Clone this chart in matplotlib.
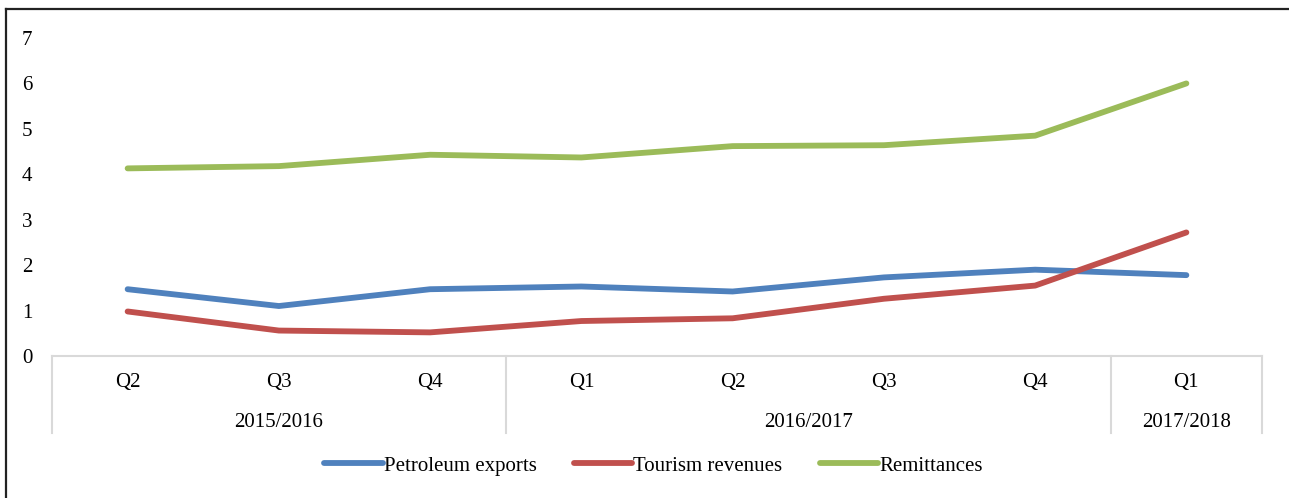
import matplotlib
matplotlib.use("Agg")
import matplotlib.pyplot as plt
from matplotlib.lines import Line2D
import matplotlib.transforms as mtransforms

plt.rcParams["font.family"] = ["Liberation Serif", "DejaVu Serif"]

quarters = ["Q2", "Q3", "Q4", "Q1", "Q2", "Q3", "Q4", "Q1"]
years = ["2015/2016", "2016/2017", "2017/2018"]
year_spans = [(0, 3), (3, 7), (7, 8)]

petroleum = [1.47, 1.10, 1.47, 1.53, 1.42, 1.73, 1.90, 1.78]
tourism = [0.98, 0.56, 0.52, 0.77, 0.83, 1.26, 1.55, 2.72]
remittances = [4.13, 4.18, 4.43, 4.37, 4.62, 4.64, 4.85, 6.00]

series = [
    ("Petroleum exports", petroleum, "#4F81BD"),
    ("Tourism revenues", tourism, "#C0504D"),
    ("Remittances", remittances, "#9BBB59"),
]

FS = 15

fig = plt.figure(figsize=(12.89, 4.98), dpi=100)
ax = fig.add_axes([52 / 1289, 1 - 356 / 498, 1210 / 1289, 318 / 498])

xs = [i + 0.5 for i in range(len(quarters))]
for name, vals, col in series:
    ax.plot(xs, vals, color=col, lw=4.2, solid_capstyle="round",
            solid_joinstyle="round", label=name)

ax.set_xlim(0, len(quarters))
ax.set_ylim(0, 7)
ax.set_yticks(range(0, 8))
ax.tick_params(axis="y", length=0, pad=14, labelsize=FS)
ax.set_xticks([])
for s in ["top", "right", "left"]:
    ax.spines[s].set_visible(False)
ax.spines["bottom"].set_color("#D9D9D9")
ax.spines["bottom"].set_linewidth(1.5)

# two-level category axis
trans = mtransforms.blended_transform_factory(ax.transData, ax.transAxes)
for x in [0, 3, 7, 8]:
    ax.plot([x, x], [0, -0.242], transform=trans, color="#D9D9D9",
            lw=1.5, clip_on=False)
for x, q in zip(xs, quarters):
    ax.text(x, -0.082, q, transform=trans, ha="center", va="center", fontsize=FS)
for (a, b), y in zip(year_spans, years):
    ax.text((a + b) / 2, -0.208, y, transform=trans, ha="center", va="center",
            fontsize=FS)

# outer frame (top and left edges)
fx = 6 / 1289
fy = 1 - 9 / 498
fig.add_artist(Line2D([fx, fx], [0, fy], color="#222222", lw=1.6))
fig.add_artist(Line2D([fx, 1], [fy, fy], color="#222222", lw=1.6))

fig.legend(loc="center", bbox_to_anchor=(0.507, 1 - 466 / 498), ncol=3,
           frameon=False, fontsize=FS, handlelength=2.8, handletextpad=0.05,
           columnspacing=1.8)

fig.savefig("out.png", dpi=100)
